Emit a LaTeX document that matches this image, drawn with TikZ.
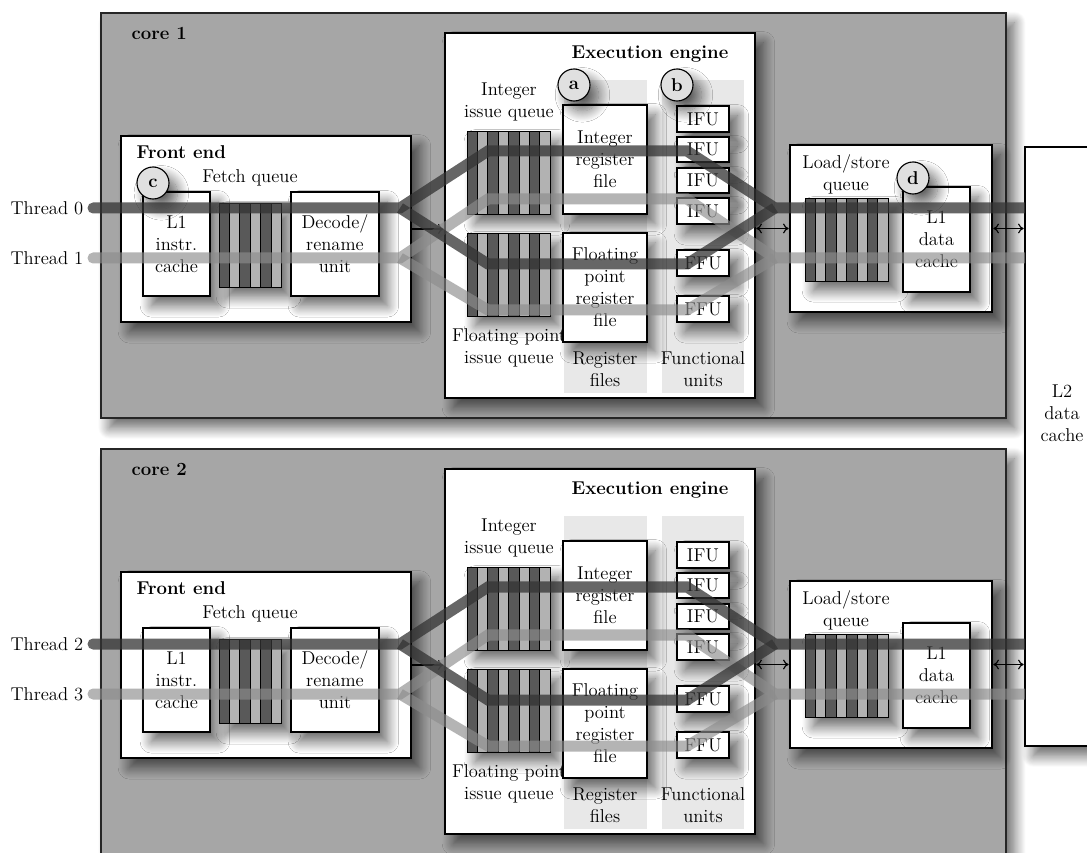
\documentclass[tikz,border=0pt]{standalone}
\usepackage{tikz}
\usetikzlibrary{arrows.meta,positioning,fit,shadows.blur}

\newcommand{\diafont}{\fontsize{13.2}{15.6}\selectfont}

\tikzset{
  spanbox/.style n args={4}{at={({(#1+#3)/2},{(#2+#4)/2})},
    minimum width={(#3-#1)*0.025cm}, minimum height={(#4-#2)*0.025cm}},
}

% striped queue: name, x0, y0, cells, height
\newcommand{\queuebox}[5]{%
  \node[fill=white, inner sep=0pt, blurred, spanbox={#2}{#3}{#2+#4*10.4}{#3+#5}] (#1) {};
  \foreach \i in {1,...,#4} {
    \ifodd\i \def\qfill{black!65}\else \def\qfill{black!30}\fi
    \draw[cell, fill=\qfill] ({#2+(\i-1)*10.4},#3) rectangle ++(10.4,#5);
  }}

\begin{document}
\begin{tikzpicture}[
  x=0.025cm, y=-0.025cm,
  font=\diafont,
  blurred/.style={blur shadow={shadow xshift=6pt, shadow yshift=-7pt,
                  shadow blur radius=8pt, shadow blur steps=15, shadow opacity=60}},
  corebox/.style={draw=black!85, line width=0.8pt, fill=black!35, inner sep=0pt, blurred},
  unit/.style={draw=black, line width=1.8pt, fill=white, inner sep=0pt, blurred},
  part/.style={draw=black, line width=0.8pt, fill=white, inner sep=0pt, align=center, blurred},
  lane/.style={fill=black!9, inner sep=0pt},
  tag/.style={circle, draw=black, line width=0.8pt, fill=black!12, minimum size=0.8cm,
              inner sep=0pt, font=\diafont\bfseries, blurred},
  lab/.style={align=center, inner sep=1pt},
  head/.style={font=\diafont\bfseries, inner sep=1pt},
  cell/.style={draw=black, line width=0.7pt},
  arr/.style={{To[length=4pt,width=7pt]}-{To[length=4pt,width=7pt]}, line width=0.8pt},
  arrone/.style={-{To[length=4pt,width=7pt]}, line width=0.8pt},
  thrdark/.style={draw=black!80, draw opacity=0.75, line width=0.275cm, line cap=round},
  thrlight/.style={draw=black!45, draw opacity=0.65, line width=0.275cm, line cap=round}
]
\useasboundingbox (0,0) rectangle (1087,853);

% Cores
\foreach \c/\dy in {1/0, 2/436} {
\begin{scope}[shift={(0,\dy)}]
  \node[corebox, spanbox={101}{13}{1006}{418}] (core\c) {};
  \node[head, anchor=west] (corelab\c) at (130,33) {core \c};

  % Front end
  \node[unit, spanbox={121}{136}{411}{322}] (fe\c) {};
  \node[head, anchor=west] (felab\c) at (135,152) {Front end};
  \node[part, spanbox={143}{192}{210}{296}] (l1i\c) {L1\\instr.\\cache};
  \queuebox{fq\c}{219}{203}{6}{84}
  \node[lab] (fqlab\c) at (250,178) {Fetch queue};
  \node[part, spanbox={291}{192}{379}{296}] (dec\c) {Decode/\\rename\\unit};

  % Execution engine
  \node[unit, spanbox={445}{33}{755}{398}] (ee\c) {};
  \node[head] (eelab\c) at (650,54) {Execution engine};
  \node[lane, spanbox={564}{80}{647}{393}] (rcol\c) {};
  \node[lane, spanbox={662}{80}{744}{393}] (fcol\c) {};
  \node[lab] (iqlab\c) at (509,102) {Integer\\issue queue};
  \queuebox{iq\c}{467}{131}{8}{83}
  \queuebox{fpq\c}{467}{233}{8}{83}
  \node[lab] (fpqlab\c) at (509,348) {Floating point\\issue queue};
  \node[part, spanbox={563}{105}{647}{214}] (irf\c) {Integer\\register\\file};
  \node[part, spanbox={563}{233}{647}{342}] (frf\c) {Floating\\point\\register\\file};
  \foreach \n/\ya/\yb in {1/106/132, 2/137/162, 3/168/193, 4/198/224}
    \node[part, spanbox={677}{\ya}{729}{\yb}] (ifu\c-\n) {IFU};
  \foreach \n/\ya/\yb in {1/250/276, 2/296/322}
    \node[part, spanbox={677}{\ya}{729}{\yb}] (ffu\c-\n) {FFU};
  \node[lab] (rflab\c) at (605,369) {Register\\files};
  \node[lab] (fulab\c) at (703,369) {Functional\\units};

  % Load/store
  \node[unit, spanbox={790}{145}{992}{312}] (ls\c) {};
  \node[lab] (lslab\c) at (846,174) {Load/store\\queue};
  \queuebox{lsq\c}{805}{198}{8}{83}
  \node[part, spanbox={903}{187}{970}{292}] (l1d\c) {L1\\data\\cache};

  \ifnum\c=1
    \node[tag] (tagc) at (153,183) {c};
    \node[tag] (taga) at (574,85) {a};
    \node[tag] (tagb) at (677,85) {b};
    \node[tag] (tagd) at (913,178) {d};
  \fi
\end{scope}}

% Shared L2
\node[unit, spanbox={1025}{147}{1100}{746}] (l2) {};
\node[lab] (l2lab) at (1062,413) {L2\\data\\cache};

% Threads and transfers
\foreach \c/\dy/\ta/\tb in {1/0/0/1, 2/436/2/3} {
\begin{scope}[shift={(0,\dy)}]
  \node[lab, anchor=east] (th\ta) at (85,208) {Thread \ta};
  \node[lab, anchor=east] (th\tb) at (85,258) {Thread \tb};
  \draw[arrone] (fe\c.east) -- (fe\c.east -| ee\c.west);
  \draw[arr] (ls\c.west -| ee\c.east) -- (ls\c.west);
  \draw[arr] (ls\c.east) -- (ls\c.east -| l2.west);
  \begin{scope}
    \clip (0,0) rectangle (1025,420);
    \draw[thrlight] ([xshift=2mm]th\tb.east) -- (400,258) -- (488,199) -- (687,199)
      -- (775,258) -- (1040,258);
    \draw[thrlight, line cap=butt] (400,258) -- (488,310) -- (687,310) -- (775,258);
    \draw[thrdark] ([xshift=2mm]th\ta.east) -- (400,208) -- (488,151) -- (687,151)
      -- (775,208) -- (1040,208);
    \draw[thrdark, line cap=butt] (400,208) -- (488,264) -- (687,264) -- (775,208);
  \end{scope}
\end{scope}}
\end{tikzpicture}
\end{document}
